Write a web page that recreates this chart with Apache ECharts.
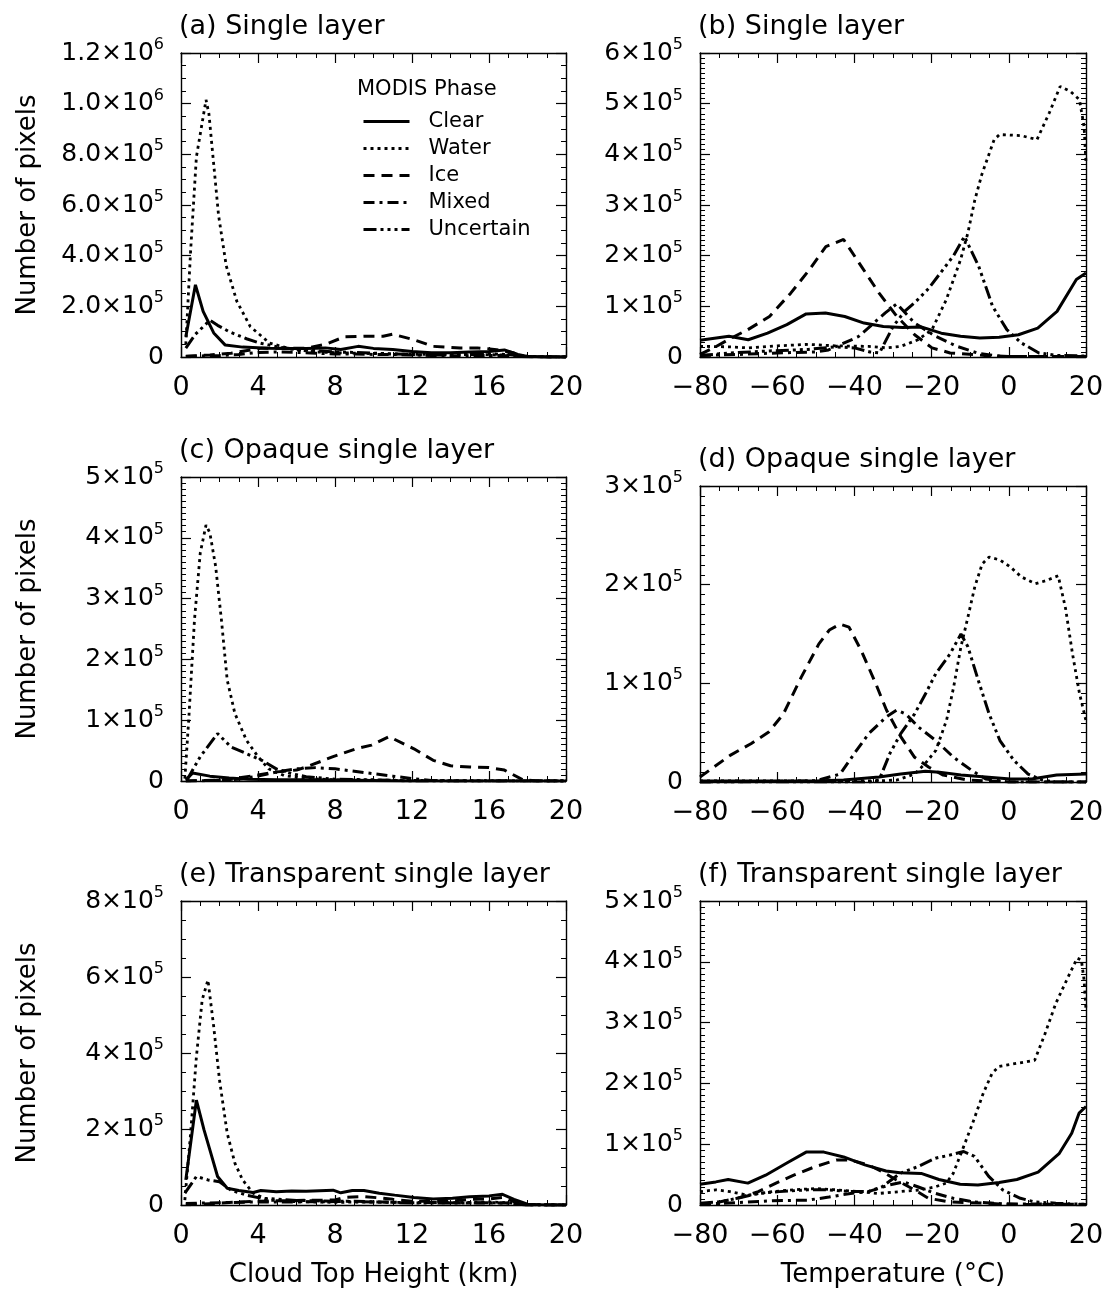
<!DOCTYPE html>
<html>
<head>
<meta charset="utf-8">
<title>MODIS phase histograms</title>
<script src="https://cdn.jsdelivr.net/npm/echarts@6.0.0/dist/echarts.min.js"></script>
<style>
  html, body { margin: 0; padding: 0; background: #fff; }
  #chart { width: 1115px; height: 1291px; }
</style>
</head>
<body>
<div id="chart"></div>
<script>
// values are in units of 1e5 pixels, x is km (a,c,e) or degC (b,d,f)
const UNIT = 1e5;
const phases = ['Clear', 'Water', 'Ice', 'Mixed', 'Uncertain'];

const heightTicks = ['0', '4', '8', '12', '16', '20'];
const tempTicks = ['\u221280', '\u221260', '\u221240', '\u221220', '0', '20'];

const yLabelsA = ['0', '2.0×10^5', '4.0×10^5', '6.0×10^5', '8.0×10^5', '1.0×10^6', '1.2×10^6'];
const yLabelsB = ['0', '1×10^5', '2×10^5', '3×10^5', '4×10^5', '5×10^5', '6×10^5'];
const yLabelsC = ['0', '1×10^5', '2×10^5', '3×10^5', '4×10^5', '5×10^5'];
const yLabelsD = ['0', '1×10^5', '2×10^5', '3×10^5'];
const yLabelsE = ['0', '2×10^5', '4×10^5', '6×10^5', '8×10^5'];
const yLabelsF = ['0', '1×10^5', '2×10^5', '3×10^5', '4×10^5', '5×10^5'];

// (a) single layer vs height
const aClear = [[0.25,0.8],[0.75,2.85],[1.15,1.8],[1.7,0.95],[2.3,0.47],[3.2,0.39],[4.5,0.35],[5.5,0.34],[6.5,0.34],[7.5,0.36],[8.3,0.3],[9.2,0.42],[10,0.34],[11,0.3],[12,0.22],[13,0.17],[14,0.17],[15,0.2],[16,0.22],[16.8,0.28],[17.5,0.1],[18,0.02],[19,0],[20,0]];
const aWater = [[0.25,0.5],[0.5,4.2],[0.8,7.9],[1.3,10.15],[1.45,9.6],[1.7,7.6],[1.95,5.6],[2.35,3.6],[2.9,2.2],[3.6,1.2],[4.6,0.55],[5.8,0.3],[7,0.2],[9,0.15],[11,0.12],[13,0.1],[15,0.1],[17,0.08],[18,0.02],[20,0]];
const aIce = [[0.25,0.03],[1.5,0.08],[2.6,0.15],[4.2,0.35],[5.5,0.35],[6.5,0.35],[7.5,0.5],[8.5,0.8],[9.5,0.82],[10.5,0.82],[11,0.9],[12.1,0.68],[13.1,0.42],[14.5,0.36],[15.4,0.36],[16.4,0.29],[17.2,0.18],[17.8,0.03],[18.5,0],[20,0]];
const aMixed = [[0.25,0.02],[1,0.04],[2,0.06],[3,0.1],[4,0.18],[5,0.2],[6,0.18],[7,0.15],[8,0.12],[9,0.12],[10,0.1],[11,0.1],[12,0.08],[13,0.06],[14,0.05],[15,0.05],[16,0.06],[17,0.05],[18,0.01],[20,0]];
const aUncertain = [[0.25,0.35],[0.75,0.9],[1.5,1.45],[1.9,1.25],[2.5,1.0],[3.4,0.72],[4.1,0.55],[5,0.4],[6,0.3],[7,0.25],[8,0.2],[9,0.18],[10,0.15],[11,0.12],[12,0.1],[13,0.08],[14,0.08],[15,0.1],[16,0.12],[17,0.1],[18,0.02],[20,0]];

// (b) single layer vs temperature
const bClear = [[-80,0.33],[-72.5,0.41],[-67.5,0.34],[-62.5,0.47],[-57.5,0.64],[-52.5,0.85],[-47.5,0.87],[-42.5,0.8],[-37.5,0.67],[-32.5,0.6],[-27.5,0.58],[-22.5,0.59],[-17.5,0.47],[-12.5,0.41],[-7.5,0.375],[-2.5,0.39],[2.5,0.44],[7.5,0.57],[12.5,0.9],[17.5,1.53],[20,1.66]];
const bWater = [[-80,0.21],[-72,0.2],[-67.6,0.18],[-60,0.22],[-52,0.25],[-45,0.22],[-36.3,0.21],[-31.7,0.18],[-28,0.21],[-23.5,0.34],[-19.9,0.54],[-16.2,1.13],[-12.5,1.92],[-10.6,2.45],[-8.8,3.1],[-7,3.6],[-3.8,4.29],[-2.4,4.39],[3.2,4.37],[7.3,4.29],[10.5,4.82],[13.3,5.34],[16,5.24],[18.3,5.08],[19.5,4.55],[20,3.83]];
const bIce = [[-80,0.05],[-76,0.2],[-72,0.37],[-67.6,0.54],[-62,0.8],[-56.5,1.26],[-51.7,1.72],[-47.4,2.18],[-42.8,2.32],[-38.2,1.79],[-33.6,1.26],[-29,0.8],[-24.4,0.44],[-19.9,0.18],[-15.2,0.08],[-6.2,0.03],[0,0.01],[20,0.01]];
const bMixed = [[-80,0.03],[-70,0.05],[-60,0.08],[-50,0.1],[-46.7,0.14],[-39,0.4],[-32,0.87],[-29,1.05],[-24.4,0.67],[-19,0.41],[-13.4,0.21],[-7.8,0.07],[-1.5,0.01],[20,0.01]];
const bUncertain = [[-80,0.03],[-72,0.08],[-62,0.12],[-52,0.15],[-45,0.2],[-40,0.18],[-36,0.1],[-33.5,0.08],[-30,0.6],[-27,0.9],[-24,1.1],[-20.8,1.35],[-17.1,1.72],[-14.3,2.0],[-11.5,2.38],[-7.8,1.79],[-4.2,1.0],[-0.5,0.54],[3.2,0.28],[7.8,0.08],[12.4,0.03],[20,0.02]];

// (c) opaque single layer vs height
const cClear = [[0.25,0.02],[0.6,0.13],[1.5,0.08],[2.5,0.05],[3.5,0.03],[5,0.02],[7,0.02],[10,0.01],[12,0],[20,0]];
const cWater = [[0.2,0.04],[0.4,1.0],[0.7,2.65],[1.0,3.75],[1.3,4.21],[1.5,4.08],[1.8,3.53],[2.1,2.65],[2.4,1.66],[2.8,1.11],[3.4,0.67],[4.0,0.4],[4.55,0.2],[5.35,0.09],[6.5,0.04],[8,0.02],[12,0.01],[20,0]];
const cIce = [[0.25,0],[2.5,0.02],[3,0.05],[4,0.1],[5,0.15],[6,0.18],[6.5,0.23],[7.9,0.4],[9.1,0.53],[9.9,0.59],[10.8,0.73],[12.1,0.53],[13.1,0.34],[14,0.25],[15,0.23],[16,0.22],[16.8,0.18],[17.75,0.02],[18.5,0],[20,0]];
const cMixed = [[0.25,0],[2,0.01],[3,0.03],[4,0.08],[5,0.15],[6,0.2],[7,0.22],[8,0.2],[9,0.16],[10,0.12],[11,0.08],[12,0.04],[13,0.01],[14,0],[20,0]];
const cUncertain = [[0.3,0.01],[1.0,0.4],[1.9,0.78],[2.6,0.56],[3.4,0.45],[4.2,0.34],[4.95,0.2],[5.75,0.12],[6.5,0.07],[8,0.03],[10,0.02],[12,0],[20,0]];

// (d) opaque single layer vs temperature
const dClear = [[-80,0.01],[-50,0.01],[-42.8,0.02],[-33.6,0.05],[-28,0.08],[-21.6,0.11],[-18,0.1],[-12.4,0.07],[-6,0.05],[0.4,0.03],[5.9,0.03],[12.4,0.07],[20,0.08]];
const dWater = [[-80,0.01],[-35,0.01],[-29,0.02],[-24.4,0.08],[-21.6,0.19],[-18.9,0.32],[-16.1,0.63],[-14.3,0.96],[-12.4,1.37],[-10.6,1.67],[-8.8,1.98],[-6.9,2.21],[-5.1,2.28],[-2.3,2.25],[0.4,2.18],[3.2,2.08],[6.9,2.01],[9.6,2.04],[12.8,2.09],[14.7,1.76],[16.5,1.3],[18.3,0.9],[20,0.62]];
const dIce = [[-80,0.05],[-76.8,0.14],[-72.2,0.27],[-66.7,0.39],[-62.1,0.51],[-58.4,0.69],[-53.8,1.06],[-49.2,1.4],[-46.5,1.54],[-43.7,1.6],[-41.4,1.57],[-38.2,1.33],[-34.5,1.0],[-31.7,0.73],[-28,0.46],[-24.4,0.25],[-20.7,0.15],[-17,0.07],[-10.6,0.02],[0,0],[20,0]];
const dMixed = [[-80,0],[-50,0.01],[-48.3,0.03],[-43.7,0.08],[-40,0.29],[-36.3,0.49],[-31.7,0.66],[-29,0.73],[-26.7,0.69],[-23.5,0.56],[-18.9,0.42],[-14.3,0.25],[-9.7,0.12],[-6,0.03],[0,0],[20,0]];
const dUncertain = [[-80,0],[-36,0],[-33.6,0.02],[-30.8,0.29],[-28,0.49],[-24.4,0.69],[-21.5,0.9],[-18.9,1.1],[-15.2,1.3],[-12.4,1.5],[-10.6,1.37],[-7.9,1.03],[-5.1,0.69],[-2.3,0.42],[1.3,0.22],[5,0.08],[8.7,0.02],[12,0],[20,0]];

// (e) transparent single layer vs height
const eClear = [[0.25,0.66],[0.8,2.76],[1.2,1.97],[1.5,1.45],[1.9,0.75],[2.4,0.44],[3.0,0.38],[3.75,0.33],[4.15,0.38],[4.95,0.35],[5.75,0.37],[6.5,0.36],[7.9,0.39],[8.3,0.32],[8.9,0.38],[9.5,0.38],[10.3,0.31],[11.1,0.26],[12.1,0.2],[13.1,0.16],[14.1,0.18],[15,0.22],[16,0.24],[16.7,0.28],[17.3,0.15],[18,0.02],[19,0],[20,0]];
const eWater = [[0.2,0.13],[0.5,1.89],[0.8,3.9],[1.1,5.4],[1.4,5.92],[1.7,4.69],[2.0,3.29],[2.4,1.89],[2.8,1.1],[3.2,0.66],[3.75,0.31],[4.55,0.13],[5.75,0.09],[8,0.07],[10,0.08],[12,0.06],[14,0.06],[16,0.08],[17,0.06],[18,0.01],[20,0]];
const eIce = [[0.25,0.01],[1,0.02],[2,0.05],[3,0.08],[4,0.1],[6,0.12],[8,0.13],[8.5,0.2],[9.5,0.22],[10.5,0.18],[11,0.15],[12,0.1],[13,0.1],[14,0.1],[15,0.15],[16,0.16],[16.7,0.2],[17.5,0.05],[18,0],[20,0]];
const eMixed = [[0.25,0.04],[1,0.05],[2,0.06],[4,0.08],[6,0.08],[8,0.09],[9,0.1],[10,0.08],[12,0.07],[14,0.06],[15,0.05],[17,0.05],[18,0],[20,0]];
const eUncertain = [[0.2,0.31],[0.8,0.75],[1.4,0.66],[2.0,0.61],[2.6,0.39],[3.4,0.26],[4.15,0.18],[6,0.12],[8,0.1],[10,0.08],[12,0.05],[14,0.05],[16,0.06],[17,0.05],[18,0],[20,0]];

// (f) transparent single layer vs temperature
const fClear = [[-80,0.34],[-75.9,0.38],[-72.7,0.42],[-67.6,0.36],[-63,0.49],[-57.5,0.69],[-52.5,0.87],[-47.9,0.87],[-42.8,0.79],[-37.3,0.66],[-31.8,0.56],[-28.2,0.53],[-22.7,0.52],[-18.1,0.42],[-12.6,0.34],[-8,0.33],[-2.5,0.37],[2.1,0.42],[7.6,0.54],[13.1,0.85],[16.3,1.18],[18.2,1.51],[20,1.62]];
const fWater = [[-80,0.22],[-75.9,0.25],[-72.2,0.22],[-67.6,0.16],[-61.2,0.22],[-55.7,0.25],[-50.2,0.27],[-44.7,0.25],[-39.2,0.22],[-33.7,0.19],[-28.2,0.22],[-22.7,0.25],[-19,0.3],[-16.2,0.36],[-14.4,0.52],[-11.7,0.96],[-9.4,1.34],[-6.6,1.84],[-4.3,2.17],[-2.5,2.28],[2.1,2.33],[6.7,2.38],[9.4,2.82],[12.2,3.32],[15,3.7],[17.7,4.06],[18.8,4.03],[19.5,3.7],[20,3.21]];
const fIce = [[-80,0.01],[-75,0.05],[-70.4,0.11],[-64.9,0.22],[-60.3,0.36],[-55.7,0.49],[-50.2,0.63],[-44.7,0.74],[-41,0.74],[-36.4,0.66],[-32.8,0.55],[-29.1,0.41],[-24.5,0.25],[-20.8,0.11],[-15.3,0.05],[-6.1,0.03],[0,0.01],[20,0.01]];
const fMixed = [[-80,0.01],[-70.4,0.04],[-61.2,0.07],[-52.1,0.08],[-46.6,0.13],[-41,0.19],[-36.4,0.22],[-30.9,0.33],[-27.2,0.38],[-23.6,0.3],[-19,0.19],[-14.4,0.11],[-8.9,0.05],[-1.6,0.02],[20,0.01]];
const fUncertain = [[-80,0.03],[-75,0.05],[-70.4,0.11],[-64.9,0.19],[-59.4,0.22],[-52.1,0.25],[-46.6,0.25],[-41,0.22],[-36.4,0.22],[-32.8,0.3],[-28.2,0.52],[-23.6,0.63],[-19,0.77],[-15.3,0.82],[-11.7,0.88],[-8.9,0.8],[-5.2,0.47],[-1.6,0.25],[3,0.11],[6.7,0.05],[12.2,0.03],[20,0.01]];

// ---- layout / style ----
const FONT = 'DejaVu Sans';
const INK = '#000';

const lineStyles = {
  Clear: { type: 'solid', width: 3 },
  Water: { type: [3, 4], width: 2.8 },
  Ice: { type: [11, 7], width: 3 },
  Mixed: { type: [11, 5, 3, 5], width: 3 },
  Uncertain: { type: [13, 4, 3, 4, 3, 4, 3, 4], width: 3 }
};

const axesH = { min: 0, max: 20, step: 4, ticks: heightTicks };
const axesT = { min: -80, max: 20, step: 20, ticks: tempTicks };

const panels = [
  { title: '(a) Single layer', xa: axesH, yMax: 12e5, yStep: 2e5, yMinor: 4, yLabels: yLabelsA, box: [181, 53, 385, 304], series: [aClear, aWater, aIce, aMixed, aUncertain] },
  { title: '(b) Single layer', xa: axesT, yMax: 6e5, yStep: 1e5, yMinor: 10, yLabels: yLabelsB, box: [700, 53, 386, 304], series: [bClear, bWater, bIce, bMixed, bUncertain] },
  { title: '(c) Opaque single layer', xa: axesH, yMax: 5e5, yStep: 1e5, yMinor: 10, yLabels: yLabelsC, box: [181, 477, 385, 304], series: [cClear, cWater, cIce, cMixed, cUncertain] },
  { title: '(d) Opaque single layer', xa: axesT, yMax: 3e5, yStep: 1e5, yMinor: 10, yLabels: yLabelsD, box: [700, 486, 386, 296], series: [dClear, dWater, dIce, dMixed, dUncertain] },
  { title: '(e) Transparent single layer', xa: axesH, yMax: 8e5, yStep: 2e5, yMinor: 4, yLabels: yLabelsE, box: [181, 901, 385, 304], series: [eClear, eWater, eIce, eMixed, eUncertain] },
  { title: '(f) Transparent single layer', xa: axesT, yMax: 5e5, yStep: 1e5, yMinor: 10, yLabels: yLabelsF, box: [700, 901, 386, 304], series: [fClear, fWater, fIce, fMixed, fUncertain] }
];

function richLabel(txt) {
  const parts = txt.split('^');
  return parts.length > 1 ? '{m|' + parts[0] + '}{s|' + parts[1] + '}' : '{m|' + txt + '}';
}

const axisLine = { show: true, onZero: false, lineStyle: { color: INK, width: 1.4 } };
const tick = { show: true, inside: true, length: 10, lineStyle: { color: INK, width: 1.2 } };

const grids = [], xAxes = [], yAxes = [], titles = [], series = [];

panels.forEach((p, i) => {
  const [l, t, w, h] = p.box;
  grids.push({ left: l, top: t, width: w, height: h, show: false, outerBoundsMode: 'none', containLabel: false });

  const xa = p.xa;
  const xBase = {
    gridIndex: i, type: 'value', min: xa.min, max: xa.max, interval: xa.step,
    axisLine: axisLine, axisTick: tick,
    minorTick: { show: true, splitNumber: 4, length: 5, lineStyle: { color: INK, width: 1 } },
    splitLine: { show: false }, minorSplitLine: { show: false }
  };
  const xBottom = Object.assign({}, xBase, {
    position: 'bottom',
    axisLabel: {
      show: true, margin: 17, color: INK, fontFamily: FONT, fontSize: 27,
      formatter: v => xa.ticks[Math.round((v - xa.min) / xa.step)]
    }
  });
  if (i === 4) Object.assign(xBottom, { name: 'Cloud Top Height (km)' });
  if (i === 5) Object.assign(xBottom, { name: 'Temperature (\u00B0C)' });
  if (i >= 4) Object.assign(xBottom, {
    nameLocation: 'middle', nameGap: 57,
    nameTextStyle: { color: INK, fontFamily: FONT, fontSize: 26 }
  });
  xAxes.push(xBottom);
  xAxes.push(Object.assign({}, xBase, { position: 'top', axisLabel: { show: false } }));

  const yBase = {
    gridIndex: i, type: 'value', min: 0, max: p.yMax, interval: p.yStep,
    axisLine: axisLine, axisTick: tick,
    minorTick: { show: true, splitNumber: p.yMinor, length: 5, lineStyle: { color: INK, width: 1 } },
    splitLine: { show: false }, minorSplitLine: { show: false }
  };
  const yLeft = Object.assign({}, yBase, {
    position: 'left',
    axisLabel: {
      show: true, margin: 17, color: INK, fontFamily: FONT,
      formatter: v => richLabel(p.yLabels[Math.round(v / p.yStep)] || ''),
      rich: {
        m: { fontFamily: FONT, fontSize: 25, lineHeight: 32, color: INK },
        s: { fontFamily: FONT, fontSize: 16, lineHeight: 16, verticalAlign: 'top', color: INK }
      }
    }
  });
  if (i % 2 === 0) Object.assign(yLeft, {
    name: 'Number of pixels', nameLocation: 'middle', nameRotate: 90, nameGap: 140,
    nameTextStyle: { color: INK, fontFamily: FONT, fontSize: 26 }
  });
  yAxes.push(yLeft);
  yAxes.push(Object.assign({}, yBase, { position: 'right', axisLabel: { show: false } }));

  titles.push({
    text: p.title, left: l - 2, top: t - 40, padding: 0,
    textStyle: { color: INK, fontFamily: FONT, fontSize: 27, fontWeight: 'normal' }
  });

  phases.forEach((ph, k) => {
    series.push({
      name: ph, type: 'line',
      xAxisIndex: 2 * i, yAxisIndex: 2 * i,
      data: p.series[k].map(pt => [pt[0], pt[1] * UNIT]),
      symbol: 'none', showSymbol: false, smooth: false, silent: true,
      lineStyle: Object.assign({ color: INK }, lineStyles[ph]),
      itemStyle: { color: INK }
    });
  });
});

titles.push({
  text: 'MODIS Phase', left: 357, top: 79, padding: 0,
  textStyle: { color: INK, fontFamily: FONT, fontSize: 21, fontWeight: 'normal' }
});

const chart = echarts.init(document.getElementById('chart'), null, { renderer: 'canvas' });
chart.setOption({
  backgroundColor: '#fff',
  animation: false,
  title: titles,
  legend: {
    data: phases, orient: 'vertical', left: 357, top: 106,
    itemWidth: 46, itemHeight: 14, itemGap: 6, selectedMode: false,
    itemStyle: { color: 'rgba(0,0,0,0)', borderColor: 'rgba(0,0,0,0)', borderWidth: 0, opacity: 0 },
    lineStyle: { width: 3, color: INK },
    textStyle: { color: INK, fontFamily: FONT, fontSize: 21, lineHeight: 20, padding: [0, 0, 0, 14] }
  },
  grid: grids,
  xAxis: xAxes,
  yAxis: yAxes,
  series: series
});
</script>
</body>
</html>
